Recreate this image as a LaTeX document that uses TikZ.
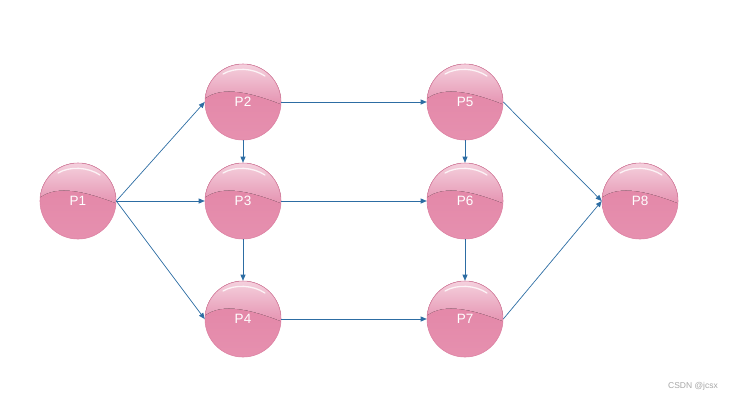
\documentclass[tikz,border=0pt]{standalone}
\usepackage{fontspec}
\setsansfont{Liberation Sans}
\usetikzlibrary{arrows.meta}
\definecolor{ballbase}{HTML}{E284A5}
\definecolor{ballbot}{HTML}{E690AF}
\definecolor{balltop}{HTML}{F5D3DF}
\definecolor{ballmid}{HTML}{E593B1}
\definecolor{balledge}{HTML}{DD82A3}
\definecolor{arrowc}{HTML}{2D6DA3}
\tikzset{
  ball/.style={circle, minimum size=76pt, inner sep=0pt, draw=balledge, line width=0.6pt,
    top color=ballbase, bottom color=ballbot, text=white,
    font=\sffamily\fontsize{13.5}{13.5}\selectfont,
    path picture={
      \coordinate (c) at (path picture bounding box.center);
      \fill[top color=balltop, bottom color=ballmid]
        ([shift={(-40,-2)}]c) .. controls ([shift={(-25,-15)}]c) and ([shift={(0,-13)}]c) .. ([shift={(40,3)}]c)
        -- ([shift={(40,-40)}]c) -- ([shift={(-40,-40)}]c) -- cycle;
      \draw[white, opacity=0.8, line width=1.3pt, line cap=round]
        ([shift={(-20,-28)}]c) .. controls ([shift={(-8,-35)}]c) and ([shift={(10,-34)}]c) .. ([shift={(22,-26)}]c);
    }},
  conn/.style={draw=arrowc, line width=0.7pt, -{Triangle[length=6pt,width=5pt]}},
  wmark/.style={text=gray!70, font=\sffamily\fontsize{8.5}{9}\selectfont}
}
\begin{document}
\begin{tikzpicture}[x=1pt,y=-1pt]
\useasboundingbox (0,0) rectangle (738,402);
\node[ball] (p1) at (78,201) {P1};
\node[ball] (p2) at (243,102) {P2};
\node[ball] (p3) at (243,201) {P3};
\node[ball] (p4) at (243,319) {P4};
\node[ball] (p5) at (465,102) {P5};
\node[ball] (p6) at (465,201) {P6};
\node[ball] (p7) at (465,319) {P7};
\node[ball] (p8) at (640,201) {P8};
\draw[conn] (p1.east) -- (p2.west);
\draw[conn] (p1.east) -- (p3.west);
\draw[conn] (p1.east) -- (p4.west);
\draw[conn] (p2.south) -- (p3.north);
\draw[conn] (p3.south) -- (p4.north);
\draw[conn] (p2.east) -- (p5.west);
\draw[conn] (p3.east) -- (p6.west);
\draw[conn] (p4.east) -- (p7.west);
\draw[conn] (p5.south) -- (p6.north);
\draw[conn] (p6.south) -- (p7.north);
\draw[conn] (p5.east) -- (p8.west);
\draw[conn] (p7.east) -- (p8.west);
\node[wmark] (wm) at (693,386) {CSDN @jcsx};
\end{tikzpicture}
\end{document}
